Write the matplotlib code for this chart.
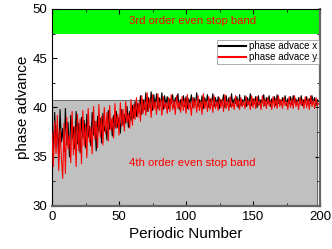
import matplotlib
matplotlib.use("Agg")
import matplotlib.pyplot as plt
import numpy as np

plt.rcParams['font.family'] = ['Liberation Sans', 'DejaVu Sans']

periodic = list(range(200))

phase_x = [
    38.8, 35.2, 39.5, 36.0, 38.2, 34.8, 39.8, 36.5, 37.9, 35.5,
    39.9, 36.2, 38.5, 35.0, 39.2, 36.8, 38.0, 35.8, 39.6, 36.3,
    38.4, 35.4, 39.0, 36.9, 38.7, 35.9, 39.3, 37.0, 38.1, 36.1,
    39.5, 37.2, 38.6, 35.6, 39.1, 37.5, 38.9, 36.4, 39.4, 37.6,
    38.3, 36.7, 39.7, 37.8, 38.8, 37.1, 39.2, 37.9, 39.6, 38.0,
    39.0, 37.4, 39.8, 38.2, 39.3, 38.4, 40.1, 38.0, 39.6, 38.7,
    40.2, 38.9, 40.6, 39.1, 40.4, 39.5, 41.2, 39.3, 40.8, 39.8,
    41.5, 39.6, 41.0, 40.0, 41.6, 39.7, 41.3, 40.1, 41.4, 39.9,
    41.0, 40.2, 41.5, 39.8, 41.2, 40.3, 41.1, 39.9, 40.9, 40.4,
    41.3, 40.0, 41.0, 40.5, 41.4, 39.8, 40.8, 40.2, 41.2, 40.1,
    41.1, 39.9, 40.9, 40.4, 41.3, 40.0, 41.0, 40.3, 41.5, 40.1,
    40.8, 40.2, 41.2, 39.9, 41.0, 40.4, 41.3, 40.0, 40.9, 40.3,
    41.4, 40.1, 41.0, 40.2, 41.1, 39.9, 40.8, 40.4, 41.3, 40.0,
    41.2, 40.3, 41.0, 40.1, 41.4, 40.2, 40.9, 40.4, 41.1, 40.0,
    41.3, 40.2, 40.8, 40.4, 41.2, 40.1, 41.0, 40.3, 41.4, 40.2,
    40.9, 40.4, 41.1, 40.0, 41.2, 40.3, 40.8, 40.5, 41.3, 40.2,
    41.0, 40.4, 41.2, 40.1, 40.9, 40.5, 41.1, 40.2, 41.3, 40.4,
    40.8, 40.3, 41.0, 40.5, 41.2, 40.2, 40.9, 40.4, 41.1, 40.3,
    41.2, 40.5, 40.9, 40.3, 41.0, 40.4, 41.2, 40.2, 40.8, 40.5,
    41.1, 40.3, 40.9, 40.4, 41.2, 40.5, 41.0, 40.2, 40.8, 40.6,
]

phase_y = [
    37.5, 34.0, 38.6, 35.3, 39.2, 33.6, 37.8, 34.9, 32.8, 38.4,
    33.3, 39.0, 35.8, 37.2, 34.4, 39.6, 35.2, 38.1, 34.0, 39.3,
    35.6, 38.8, 34.3, 39.7, 36.1, 38.3, 34.9, 39.9, 36.5, 38.0,
    35.3, 40.1, 36.8, 38.6, 35.9, 40.3, 37.0, 39.1, 36.2, 40.0,
    37.4, 39.5, 36.6, 40.2, 37.7, 39.0, 36.9, 40.4, 37.9, 39.3,
    37.2, 40.5, 38.1, 39.8, 37.6, 40.6, 38.5, 39.4, 37.9, 40.8,
    38.2, 40.3, 38.8, 41.0, 39.0, 40.5, 38.6, 41.2, 39.4, 40.7,
    39.2, 41.5, 39.6, 40.9, 39.0, 41.3, 39.8, 40.6, 39.3, 41.4,
    39.7, 40.8, 39.2, 41.1, 39.9, 40.5, 39.4, 41.0, 39.6, 41.3,
    39.8, 40.7, 39.3, 41.2, 39.9, 40.6, 39.5, 41.1, 39.7, 40.9,
    39.4, 41.3, 39.8, 40.5, 39.2, 41.0, 39.9, 40.8, 39.5, 41.2,
    39.7, 40.6, 39.3, 41.4, 39.9, 40.7, 39.6, 41.1, 39.8, 40.9,
    39.5, 41.2, 39.9, 40.6, 39.7, 41.0, 40.0, 40.8, 39.6, 41.3,
    39.9, 40.7, 39.7, 41.1, 40.0, 40.5, 39.8, 41.2, 40.1, 40.8,
    39.8, 41.0, 40.1, 40.6, 39.9, 41.1, 40.2, 40.7, 39.8, 41.2,
    40.0, 40.9, 39.9, 41.1, 40.2, 40.6, 39.8, 41.2, 40.1, 40.8,
    39.9, 41.0, 40.2, 40.7, 39.8, 41.1, 40.0, 40.9, 39.9, 41.2,
    40.1, 40.8, 39.9, 41.0, 40.2, 40.6, 39.8, 41.1, 40.0, 40.9,
    39.9, 41.2, 40.1, 40.7, 39.8, 41.0, 40.2, 40.8, 39.9, 41.1,
    40.0, 40.9, 39.8, 41.2, 40.1, 40.7, 39.9, 41.0, 40.2, 40.4,
]

band3 = (47.5, 50.0)
band4 = (30.0, 40.8)
band4_xmax = 197.5

fig = plt.figure(figsize=(3.32, 2.49), dpi=100)
ax = fig.add_axes([52/332, 1-206/249, 268/332, 197/249])

ax.axhspan(band3[0], band3[1], color='#00ff00', zorder=0, lw=0)
ax.fill_between([0, band4_xmax], band4[0], band4[1], facecolor='#c0c0c0',
                edgecolor='#555555', lw=0.6, zorder=0)

ax.plot(periodic, phase_x, color='black', lw=0.8, label='phase advace x', zorder=2)
ax.plot(periodic, phase_y, color='red', lw=0.8, label='phase advace y', zorder=3)

ax.text(105, 48.75, '3rd order even stop band', color='red', fontsize=8.2,
        ha='center', va='center')
ax.text(105, 34.4, '4th order even stop band', color='red', fontsize=8.2,
        ha='center', va='center')

ax.set_xlim(0, 200)
ax.set_ylim(30, 50)
ax.set_xticks([0, 50, 100, 150, 200])
ax.set_xticks([25, 75, 125, 175], minor=True)
ax.set_yticks([30, 35, 40, 45, 50])
ax.set_yticks([32.5, 37.5, 42.5, 47.5], minor=True)
ax.tick_params(which='both', direction='in', top=True, right=True, labelsize=9.5)
ax.tick_params(which='major', length=3.5, width=0.8)
ax.tick_params(which='minor', length=2, width=0.6)

ax.set_xlabel('Periodic Number', fontsize=11, labelpad=3)
ax.set_ylabel('phase advance', fontsize=11, labelpad=2)

for s in ['left', 'top']:
    ax.spines[s].set_linewidth(0.8)
for s in ['right', 'bottom']:
    ax.spines[s].set_linewidth(1.6)
    ax.spines[s].set_color('#666666')

leg = ax.legend(loc='upper right', bbox_to_anchor=(0.995, 0.845), fontsize=7,
                frameon=True, fancybox=False, borderpad=0.2, labelspacing=0.1,
                handlelength=2.7, handletextpad=0.3, borderaxespad=0)
leg.get_frame().set_edgecolor('#888888')
leg.get_frame().set_linewidth(0.6)
for line in leg.get_lines():
    line.set_linewidth(1.5)

fig.savefig('out.png', dpi=100)
